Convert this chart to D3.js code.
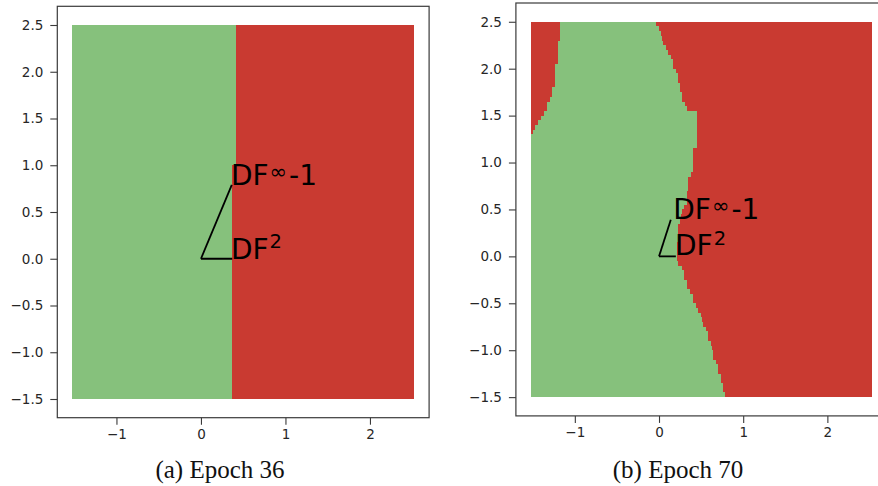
<!DOCTYPE html>
<html>
<head>
<meta charset="utf-8">
<script src="https://cdn.jsdelivr.net/npm/d3@7"></script>
<style>
  html, body { margin: 0; padding: 0; background: #fff; }
  svg { display: block; }
</style>
</head>
<body>
<svg id="chart" width="878" height="486"></svg>
<script>
// ---- data -------------------------------------------------------------
const yTicks = [-1.5, -1.0, -0.5, 0.0, 0.5, 1.0, 1.5, 2.0, 2.5];
const xTicks = [-1, 0, 1, 2];
const yTickLabels = ["\u22121.5", "\u22121.0", "\u22120.5", "0.0", "0.5", "1.0", "1.5", "2.0", "2.5"];
const xTickLabels = ["\u22121", "0", "1", "2"];

// evaluation grid: x extent and rows of height 0.05 from y = 2.5 down to y = -1.5
const gridX = [-1.525, 2.525];
const gridRows = d3.range(80).map(i => [2.5 - 0.05 * i, 2.5 - 0.05 * (i + 1)]);

// Epoch 36: one vertical boundary, green to the left of it
// [row top, row bottom, boundary x]
const epoch36Segments = [
  [2.5, 1.0, 0.41],
  [1.0, -1.5, 0.37]
];

// Epoch 70: right edge of the green region, per grid row (top to bottom)
const epoch70Right = [
  -0.036, 0.0, 0.02, 0.036, 0.048, 0.083, 0.107, 0.139, 0.166, 0.166,
  0.198, 0.222, 0.222, 0.249, 0.249, 0.277, 0.277, 0.309, 0.336, 0.448,
  0.448, 0.448, 0.448, 0.448, 0.448, 0.448, 0.448, 0.407, 0.407, 0.407,
  0.407, 0.407, 0.376, 0.348, 0.348, 0.348, 0.329, 0.329, 0.329, 0.297,
  0.273, 0.261, 0.249, 0.229, 0.229, 0.229, 0.229, 0.214, 0.214, 0.214,
  0.214, 0.229, 0.27, 0.297, 0.297, 0.333, 0.333, 0.368, 0.404, 0.404,
  0.436, 0.467, 0.495, 0.51, 0.526, 0.555, 0.586, 0.586, 0.614, 0.63,
  0.645, 0.645, 0.673, 0.704, 0.704, 0.733, 0.733, 0.764, 0.764, 0.78
];
// Epoch 70: left edge of the green region for the top rows (red wedge at upper left)
const epoch70Left = [
  -1.176, -1.176, -1.176, -1.176, -1.205, -1.205, -1.205, -1.205, -1.205, -1.235,
  -1.235, -1.235, -1.235, -1.235, -1.27, -1.27, -1.30, -1.335, -1.335, -1.37,
  -1.40, -1.44, -1.47, -1.50
];

// annotation labels: [base, superscript, tail, text x, text y, line end x, line end y]
const epoch36Notes = [
  ["DF", "\u221E", "-1", 0.355, 0.79, 0.365, 0.79],
  ["DF", "2", "", 0.355, 0.0, 0.37, 0.0]
];
const epoch70Notes = [
  ["DF", "\u221E", "-1", 0.17, 0.40, 0.14, 0.39],
  ["DF", "2", "", 0.19, 0.01, 0.20, 0.0]
];

const captions = ["(a) Epoch 36", "(b) Epoch 70"];

// ---- drawing ----------------------------------------------------------
const GREEN = "#86c17c";
const RED = "#c93a31";
const svg = d3.select("#chart");

function rows36() {
  return gridRows.map(([top, bottom]) => {
    const mid = (top + bottom) / 2;
    const seg = epoch36Segments.find(s => mid <= s[0] && mid >= s[1]);
    return { top, bottom, left: gridX[0], right: seg[2] };
  });
}
function rows70() {
  return gridRows.map(([top, bottom], i) => ({
    top, bottom,
    left: i < epoch70Left.length ? epoch70Left[i] : gridX[0],
    right: epoch70Right[i]
  }));
}

function drawPanel(cfg) {
  const x = d3.scaleLinear().domain([-1.7, 2.7]).range(cfg.xRange);
  const y = d3.scaleLinear().domain([-1.7, 2.7]).range(cfg.yRange);
  const g = svg.append("g");

  // each grid row: red on the left, green band, red on the right
  const cells = [];
  cfg.rows.forEach(r => {
    if (r.left > gridX[0]) cells.push({ x0: gridX[0], x1: r.left, top: r.top, bottom: r.bottom, c: RED });
    cells.push({ x0: r.left, x1: r.right, top: r.top, bottom: r.bottom, c: GREEN });
    cells.push({ x0: r.right, x1: gridX[1], top: r.top, bottom: r.bottom, c: RED });
  });
  g.selectAll("rect.cell")
    .data(cells)
    .join("rect")
    .attr("class", "cell")
    .attr("x", d => Math.round(x(d.x0)))
    .attr("y", d => Math.round(y(d.top)))
    .attr("width", d => Math.max(0, Math.round(x(d.x1)) - Math.round(x(d.x0))))
    .attr("height", d => Math.round(y(d.bottom)) - Math.round(y(d.top)))
    .attr("fill", d => d.c)
    .attr("shape-rendering", "crispEdges");

  // frame
  const [x0, x1] = cfg.xRange;
  const [yb, yt] = cfg.yRange;
  g.append("rect")
    .attr("x", x0).attr("y", yt)
    .attr("width", x1 - x0).attr("height", yb - yt)
    .attr("fill", "none").attr("stroke", "#3a3a3a").attr("stroke-width", 1.2);

  // y axis
  const ya = g.append("g").attr("transform", `translate(${x0},0)`)
    .call(d3.axisLeft(y).tickValues(yTicks)
      .tickFormat((d, i) => yTickLabels[i]).tickSize(7).tickPadding(7));
  // x axis
  const xa = g.append("g").attr("transform", `translate(0,${yb})`)
    .call(d3.axisBottom(x).tickValues(xTicks)
      .tickFormat((d, i) => xTickLabels[i]).tickSize(7).tickPadding(5));
  [ya, xa].forEach(a => {
    a.select(".domain").remove();
    a.selectAll(".tick line").attr("stroke", "#3a3a3a").attr("stroke-width", 1.1);
    a.selectAll(".tick text")
      .attr("font-family", "DejaVu Sans, sans-serif")
      .attr("font-size", 13.5)
      .attr("fill", "#262626");
  });

  // annotations: line from the origin to each label
  cfg.notes.forEach(([base, sup, tail, tx, ty, ex, ey]) => {
    g.append("line")
      .attr("x1", x(0)).attr("y1", y(0))
      .attr("x2", x(ex)).attr("y2", y(ey))
      .attr("stroke", "#000").attr("stroke-width", 1.8);
    const t = g.append("text")
      .attr("x", x(tx)).attr("y", y(ty))
      .attr("font-family", "DejaVu Sans, sans-serif")
      .attr("font-size", 28)
      .attr("fill", "#000");
    t.append("tspan").text(base);
    const isInf = sup === "\u221E";
    const shift = isInf ? 6 : 10.5;
    t.append("tspan").text(sup)
      .attr("font-size", isInf ? 21 : 19.5)
      .attr("dx", 1)
      .attr("dy", -shift);
    if (tail) {
      t.append("tspan").text(tail).attr("dy", shift).attr("dx", 2);
    }
  });

  // caption
  svg.append("text")
    .attr("x", cfg.captionX).attr("y", 478)
    .attr("text-anchor", "middle")
    .attr("font-family", "Liberation Serif, serif")
    .attr("font-size", 25)
    .attr("fill", "#111")
    .text(cfg.caption);
}

drawPanel({
  xRange: [57.3, 429.1], yRange: [417.7, 6.3],
  rows: rows36(), notes: epoch36Notes,
  caption: captions[0], captionX: 220
});
drawPanel({
  xRange: [515.9, 886.3], yRange: [415.9, 3.0],
  rows: rows70(), notes: epoch70Notes,
  caption: captions[1], captionX: 678
});
</script>
</body>
</html>
